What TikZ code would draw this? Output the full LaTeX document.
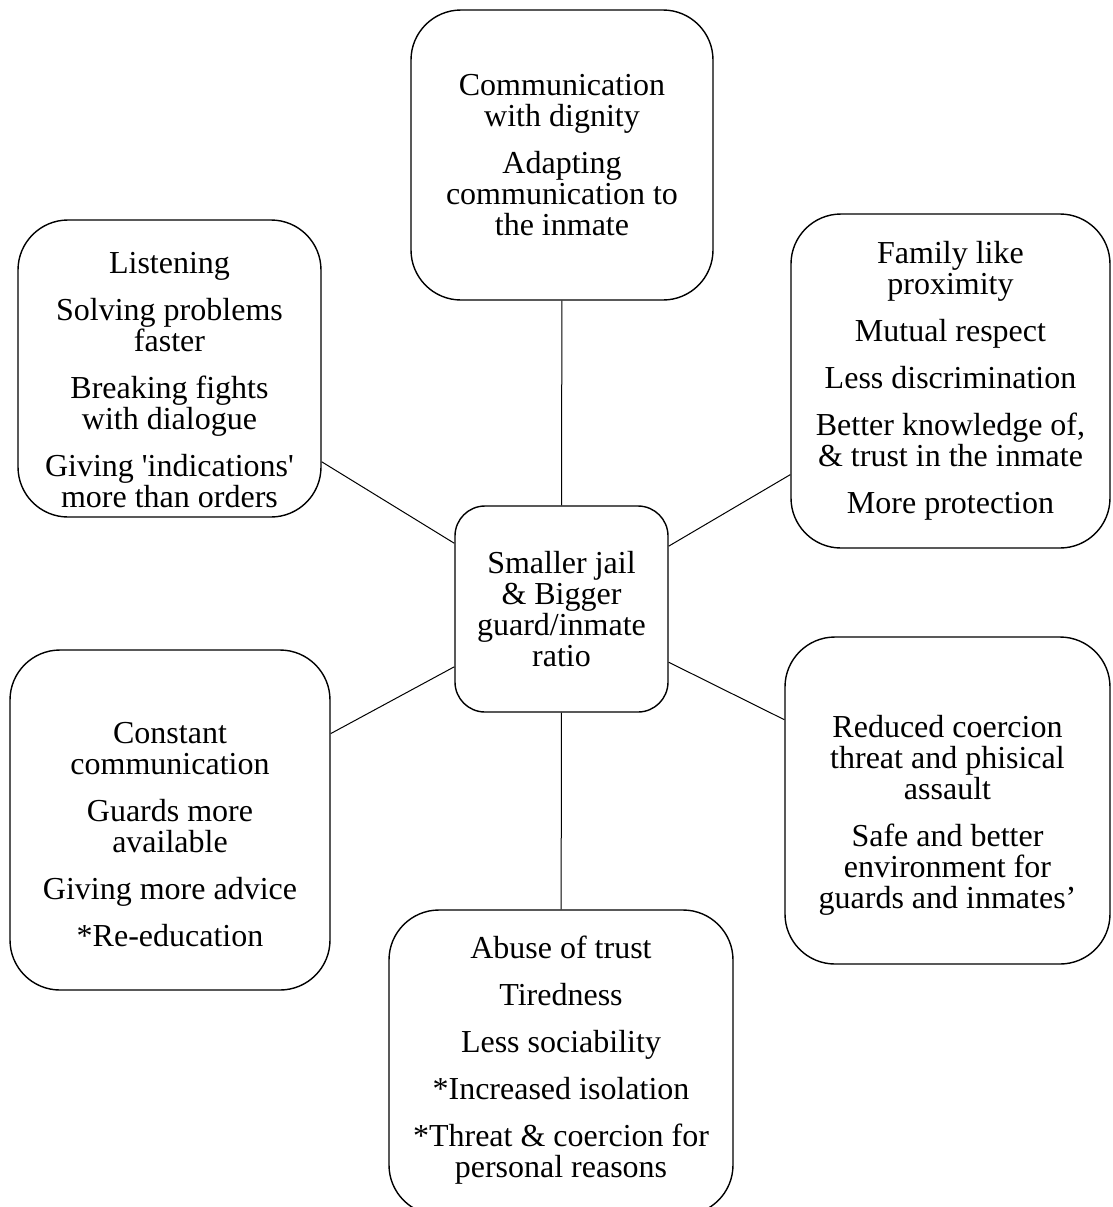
\documentclass[tikz,border=0pt]{standalone}
\usepackage{fontspec}
\setmainfont{Liberation Serif}[Ligatures=TeXOff]
\tikzset{
  box/.style={draw,rounded corners=25pt,line width=0.7pt},
  txt/.style={align=center,font=\fontsize{16}{15.5}\selectfont},
}
\newcommand{\gap}{\\[8pt]}
\begin{document}
\begin{tikzpicture}[x=0.5pt,y=-0.5pt]
\useasboundingbox (0,0) rectangle (1113,1207);
% boxes
\node[box,minimum width=151pt,minimum height=145pt] (tp) at (562,155) {};
\node[box,minimum width=151.5pt,minimum height=148.5pt] (lt) at (169.5,368.5) {};
\node[box,minimum width=159.5pt,minimum height=167pt] (rt) at (950.5,381) {};
\node[box,rounded corners=15pt,minimum width=106.5pt,minimum height=103pt] (c) at (561.5,609) {};
\node[box,minimum width=160pt,minimum height=170pt] (lb) at (170,820) {};
\node[box,minimum width=162.5pt,minimum height=163.5pt] (rb) at (947.5,800.5) {};
\node[box,minimum width=172pt,minimum height=152.5pt] (bt) at (561,1062.5) {};
% texts
\node[txt] (tp-t) at (562,155) {Communication\\with dignity\gap Adapting\\communication to\\the inmate};
\node[txt] (lt-t) at (169.5,380) {Listening\gap Solving problems\\faster\gap Breaking fights\\with dialogue\gap Giving 'indications'\\more than orders};
\node[txt] (rt-t) at (950.5,381) {Family like\\proximity\gap Mutual respect\gap Less discrimination\gap Better knowledge of,\\\& trust in the inmate\gap More protection};
\node[txt] (c-t) at (561.5,609) {Smaller jail\\\& Bigger\\guard/inmate\\ratio};
\node[txt] (lb-t) at (170,835) {Constant\\communication\gap Guards more\\available\gap Giving more advice\gap *Re-education};
\node[txt] (rb-t) at (947.5,815) {Reduced coercion\\threat and phisical\\assault\gap Safe and better\\environment for\\guards and inmates’};
\node[txt] (bt-t) at (561,1060) {Abuse of trust\gap Tiredness\gap Less sociability\gap *Increased isolation\gap *Threat \& coercion for\\personal reasons};
% connectors
\foreach \n in {tp,lt,rt,lb,rb,bt}
  \draw[line width=0.5pt] (c) -- (\n);
\end{tikzpicture}
\end{document}
